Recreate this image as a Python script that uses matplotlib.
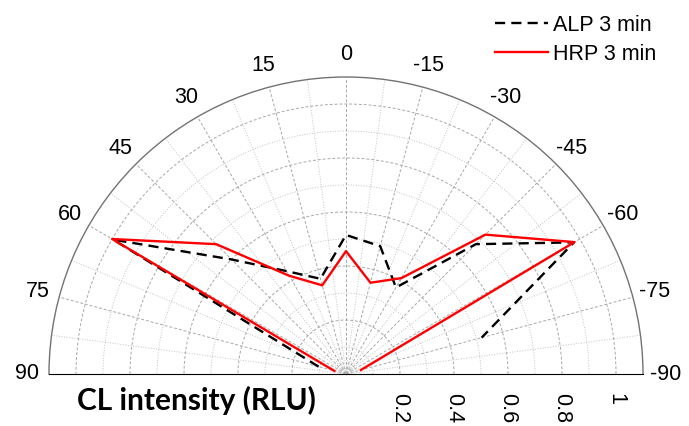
import numpy as np
import matplotlib.pyplot as plt

plt.rcParams['font.family'] = ['Liberation Sans', 'DejaVu Sans']

# measurement angles (deg) and normalised CL intensities
angles_deg = [75, 60, 45, 30, 15, 0, -15, -30, -45, -60, -75]
alp = [0.105, 0.995, 0.60, 0.44, 0.365, 0.515, 0.49, 0.37, 0.68, 0.975, 0.52]
hrp = [0.045, 1.0, 0.68, 0.42, 0.34, 0.455, 0.35, 0.41, 0.73, 0.977, 0.057]

theta_ticks = list(range(-90, 91, 15))
theta_labels = [str(t) for t in theta_ticks]
r_ticks = [0.2, 0.4, 0.6, 0.8, 1.0]
r_labels = ['0.2', '0.4', '0.6', '0.8', '1']
r_minor = [0.1, 0.3, 0.5, 0.7, 0.9]

W, H = 689, 426
cx, cy, R = 346, 374, 297   # centre and outer radius in pixels
fs = 15.5

fig = plt.figure(figsize=(W / 100, H / 100), dpi=100)
# square box of side 2R; the half disc is centred vertically inside it
top = cy - R - R / 2
ax = fig.add_axes([(cx - R) / W, (H - (top + 2 * R)) / H, 2 * R / W, 2 * R / H],
                  projection='polar')
ax.set_theta_zero_location('N')
ax.set_theta_direction(1)
ax.set_thetamin(-90)
ax.set_thetamax(90)
ax.set_rlim(0, 1.1)

th = np.deg2rad(angles_deg)
ax.plot(th, alp, color='black', linestyle=(0, (4.3, 2.6)), linewidth=1.7, label='ALP 3 min')
ax.plot(th, hrp, color='red', linewidth=1.7, label='HRP 3 min')

# angular grid
ax.set_xticks(np.deg2rad(theta_ticks))
ax.set_xticklabels(theta_labels, fontsize=fs)
ax.set_xticks(np.deg2rad(np.arange(-82.5, 90, 15)), minor=True)
ax.tick_params(axis='x', which='major', direction='in', length=6, color='0.4', pad=9)
ax.tick_params(axis='x', which='minor', direction='in', length=4, color='0.5')

# radial grid
ax.set_yticks(r_ticks)
ax.set_yticklabels([])
ax.set_yticks(r_minor, minor=True)
ax.tick_params(axis='y', which='both', length=0)

ax.grid(True, which='major', color='0.66', linestyle=(0, (3, 2)), linewidth=0.7)
ax.grid(True, which='minor', color='0.76', linestyle=':', linewidth=0.7)

ax.spines['polar'].set_color('0.45')
ax.spines['polar'].set_linewidth(1.0)
ax.spines['start'].set_visible(False)
ax.spines['end'].set_visible(False)
ax.spines['inner'].set_visible(False)

for r, lab in zip(r_ticks, r_labels):
    ax.annotate(lab, xy=(-np.pi / 2, r), xytext=(0, -14), textcoords='offset points',
                rotation=-90, ha='center', va='top', fontsize=fs)

fig.text(196 / W, 1 - 400 / H, 'CL intensity (RLU)', ha='center', va='center',
         fontsize=21.5, fontweight='bold', family=['Lato', 'DejaVu Sans'])

fig.legend(loc='upper left', bbox_to_anchor=(495 / W, 1 - 15 / H), frameon=False,
           fontsize=fs, handlelength=2.45, handletextpad=0.25, labelspacing=0.36,
           borderpad=0, borderaxespad=0)

fig.savefig('out.png', dpi=100)
